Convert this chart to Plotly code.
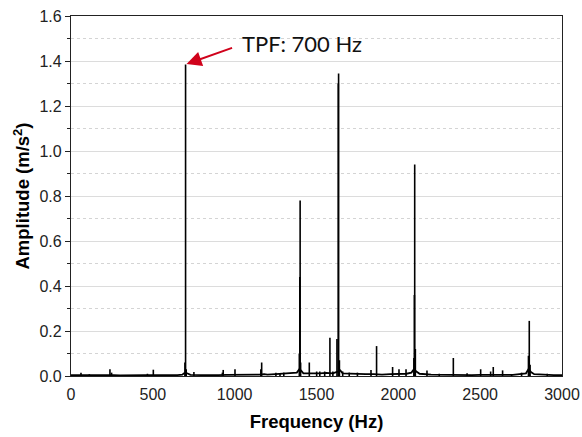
import plotly.graph_objects as go

# ---- data ----
floor_freq = [0, 30, 80, 150, 200, 260, 300, 350, 400, 450, 520, 600, 650, 680, 690, 710, 730,
              800, 850, 900, 950, 1050, 1100, 1150, 1180, 1200, 1250, 1280, 1320, 1350, 1380,
              1395, 1405, 1420, 1450, 1480, 1520, 1560, 1600, 1625, 1645, 1660, 1700, 1750,
              1800, 1850, 1900, 1950, 2000, 2050, 2080, 2095, 2110, 2130, 2200, 2250, 2300,
              2350, 2400, 2450, 2500, 2550, 2600, 2650, 2700, 2750, 2780, 2795, 2810, 2830,
              2900, 2950, 3000]
floor_amp = [0.004, 0.005, 0.004, 0.004, 0.005, 0.004, 0.003, 0.004, 0.003, 0.004, 0.004, 0.003,
             0.004, 0.006, 0.012, 0.012, 0.005, 0.004, 0.003, 0.004, 0.005, 0.004, 0.004, 0.006,
             0.008, 0.006, 0.008, 0.010, 0.012, 0.012, 0.015, 0.030, 0.025, 0.012, 0.012, 0.010,
             0.012, 0.014, 0.012, 0.018, 0.025, 0.012, 0.010, 0.008, 0.008, 0.008, 0.006, 0.008,
             0.008, 0.010, 0.015, 0.030, 0.020, 0.010, 0.006, 0.005, 0.004, 0.005, 0.004, 0.004,
             0.005, 0.006, 0.006, 0.005, 0.005, 0.008, 0.012, 0.030, 0.018, 0.008, 0.004, 0.004,
             0.004]

peak_freq = [61, 112, 238, 248, 467, 503, 696, 700, 704, 751, 925, 930, 1002, 1160, 1165,
             1252, 1277, 1300, 1395, 1398, 1400, 1403, 1456, 1501, 1520, 1550, 1582, 1600,
             1625, 1633, 1635, 1640, 1660, 1700, 1750, 1833, 1867, 1965, 2004, 2047, 2095,
             2098, 2100, 2104, 2175, 2250, 2336, 2420, 2503, 2564, 2580, 2637, 2692, 2753,
             2795, 2800, 2805, 2910]
peak_amp = [0.015, 0.008, 0.030, 0.015, 0.010, 0.028, 0.060, 1.385, 0.030, 0.018, 0.015, 0.027,
            0.030, 0.030, 0.060, 0.015, 0.012, 0.015, 0.100, 0.440, 0.780, 0.060, 0.060, 0.020,
            0.020, 0.020, 0.170, 0.020, 0.165, 1.300, 1.345, 0.070, 0.020, 0.015, 0.015, 0.027,
            0.133, 0.040, 0.030, 0.030, 0.080, 0.360, 0.940, 0.120, 0.025, 0.010, 0.080, 0.012,
            0.030, 0.020, 0.040, 0.025, 0.008, 0.015, 0.090, 0.245, 0.050, 0.010]

y_ticks = [0.0, 0.2, 0.4, 0.6, 0.8, 1.0, 1.2, 1.4, 1.6]
x_ticks = [0, 500, 1000, 1500, 2000, 2500, 3000]

annot_text = "TPF: 700 Hz"
annot_freq = 700
annot_amp = 1.385

# ---- build stems ----
sx, sy = [], []
for f, a in zip(peak_freq, peak_amp):
    sx += [f, f, None]
    sy += [0, a, None]

fig = go.Figure()
fig.add_trace(go.Scatter(x=floor_freq, y=floor_amp, mode="lines",
                         line=dict(color="black", width=1.8), hoverinfo="skip"))
fig.add_trace(go.Scatter(x=sx, y=sy, mode="lines",
                         line=dict(color="black", width=1.6), hoverinfo="skip"))

fig.update_layout(
    width=582, height=437,
    margin=dict(l=71, r=20, t=16, b=61),
    paper_bgcolor="white", plot_bgcolor="white",
    showlegend=False,
    font=dict(family="Liberation Sans, Arial", color="#222", size=16),
)

fig.update_xaxes(
    range=[0, 3000], tickvals=x_ticks, ticktext=[str(v) for v in x_ticks],
    showgrid=False, zeroline=False, automargin=False, ticklabeloverflow="allow",
    showline=True, linecolor="#222", linewidth=1.2, mirror=True,
    ticks="", ticklabelstandoff=4, tickfont=dict(size=16, color="#222"),
    title=dict(text="<b>Frequency (Hz)</b>", font=dict(size=18.5, color="black"), standoff=12),
)
fig.update_yaxes(
    range=[0, 1.6], tickvals=y_ticks, ticktext=[f"{v:.1f}" for v in y_ticks],
    showgrid=True, gridcolor="#dcdcdc", gridwidth=1, zeroline=False, automargin=False,
    ticklabeloverflow="allow",
    showline=True, linecolor="#222", linewidth=1.2, mirror=True,
    ticks="outside", ticklen=5, tickcolor="#222",
    minor=dict(dtick=0.1, showgrid=True, gridcolor="#d4d4d4", griddash="dot",
               ticks="outside", ticklen=3, tickcolor="#222"),
    tickfont=dict(size=16, color="#222"),
    title=dict(text="<b>Amplitude (m/s<sup>2</sup>)</b>", font=dict(size=18.5, color="black"),
               standoff=4),
)

# arrow
fig.add_annotation(x=annot_freq, y=annot_amp, xref="x", yref="y", text="",
                   showarrow=True, arrowhead=2, arrowsize=1.5, arrowwidth=2,
                   arrowcolor="#d0021b", ax=48, ay=-17, standoff=1)
# label
fig.add_annotation(x=1032, y=1.476, xref="x", yref="y", text=annot_text,
                   showarrow=False, xanchor="left", yanchor="middle",
                   font=dict(family="Lato, Open Sans, sans-serif", size=22, color="#111"))

fig.write_html("out.html", config={"displayModeBar": False},
               post_script="document.body.style.margin='0';document.body.style.overflow='hidden';")
